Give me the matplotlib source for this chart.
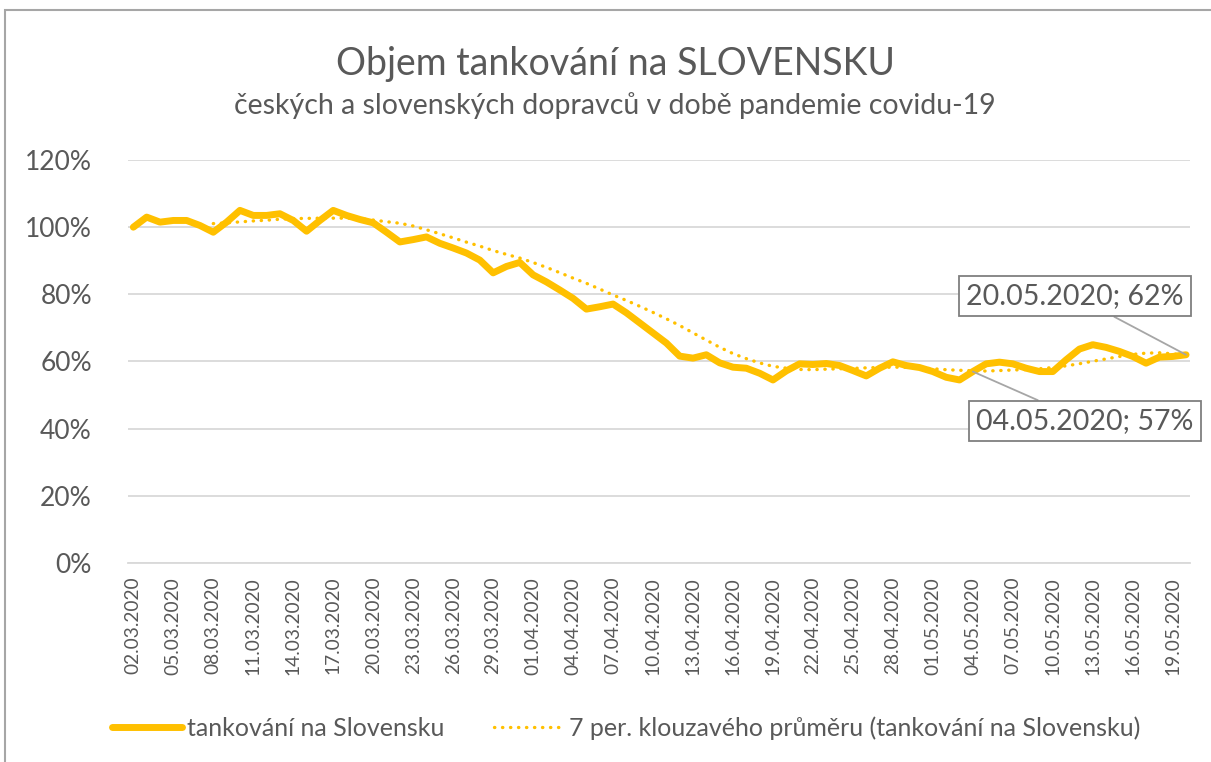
import pandas as pd
import matplotlib.pyplot as plt
from matplotlib.patches import Rectangle
from matplotlib.ticker import FuncFormatter

plt.rcParams['font.family'] = ['Lato', 'DejaVu Sans']

# daily dates 02.03.2020 - 20.05.2020
dates = pd.date_range('2020-03-02', '2020-05-20', freq='D')
date_labels = [d.strftime('%d.%m.%Y') for d in dates]

# tankovani na Slovensku (share of normal volume, %)
tankovani = [100, 103, 101.5, 102, 102, 100.5, 98.5, 101.5, 105, 103.5,
             103.5, 104, 102, 98.8, 102, 105, 103.5, 102.3, 101.3, 98.5,
             95.6, 96.3, 97.1, 95.2, 93.8, 92.3, 90.2, 86.4, 88.3, 89.5,
             85.8, 83.7, 81.3, 78.8, 75.6, 76.3, 77.1, 74.5, 71.5, 68.5,
             65.5, 61.6, 61.0, 62.0, 59.6, 58.3, 58.0, 56.5, 54.5, 57.2,
             59.3, 59.1, 59.4, 58.8, 57.3, 55.7, 58.0, 59.9, 58.8, 58.2,
             57.0, 55.3, 54.5, 57.0, 59.3, 59.8, 59.3, 58.0, 57.0, 57.0,
             60.5, 63.7, 65.0, 64.2, 63.0, 61.5, 59.5, 61.3, 61.5, 62.0]

s = pd.Series(tankovani, dtype=float) / 100
ma7 = s.rolling(7).mean()

gold = '#FFC000'
grey_text = '#595959'

fig = plt.figure(figsize=(12.11, 7.62), dpi=100)
ax = fig.add_axes([0.1057, 0.2612, 0.877, 0.5288])

x = range(len(s))
ax.plot(x, s, color=gold, lw=5, solid_joinstyle='round', solid_capstyle='round',
        label='tankování na Slovensku', zorder=3)
ax.plot(x, ma7, color=gold, lw=2.4, linestyle=(0, (0.1, 2.3)), dash_capstyle='round',
        label='7 per. klouzavého průměru (tankování na Slovensku)', zorder=2)

ax.set_ylim(0, 1.2)
ax.set_xlim(-0.4, 79.3)
ax.set_yticks([0, 0.2, 0.4, 0.6, 0.8, 1.0, 1.2])
ax.yaxis.set_major_formatter(FuncFormatter(lambda v, p: '{:.0f}%'.format(v * 100)))
ax.set_xticks(list(range(0, len(s), 3)))
ax.set_xticklabels(date_labels[::3], rotation=90)
ax.tick_params(axis='both', length=0, colors=grey_text)
ax.tick_params(axis='y', labelsize=19, pad=26)
ax.tick_params(axis='x', labelsize=13.8, pad=10)
ax.grid(axis='y', color='#D9D9D9', lw=1.3)
ax.set_axisbelow(True)
for side in ['left', 'right', 'top']:
    ax.spines[side].set_visible(False)
ax.spines['bottom'].set_color('#D9D9D9')
ax.spines['bottom'].set_linewidth(1.3)

# data labels
box = dict(boxstyle='square,pad=0.25', fc='white', ec='#7F7F7F', lw=1.3)
line = dict(arrowstyle='-', color='#A6A6A6', lw=1.3, shrinkA=0, shrinkB=0)
ax.annotate('20.05.2020; 62%', xy=(79, s.iloc[79]), xytext=(1075, 466),
            textcoords='figure pixels', ha='center', va='center', fontsize=20.5,
            color=grey_text, bbox=box, arrowprops=line, zorder=5)
ax.annotate('04.05.2020; 57%', xy=(63, s.iloc[63]), xytext=(1085, 341),
            textcoords='figure pixels', ha='center', va='center', fontsize=20.5,
            color=grey_text, bbox=box, arrowprops=line, zorder=5)

fig.text(0.508, 0.916, 'Objem tankování na SLOVENSKU', ha='center', va='center',
         fontsize=27, color=grey_text)
fig.text(0.508, 0.862, 'českých a slovenských dopravců v době pandemie covidu-19',
         ha='center', va='center', fontsize=20.5, color=grey_text)

leg = fig.legend(loc='center', bbox_to_anchor=(0.517, 0.045), ncol=2, frameon=False,
                 fontsize=18, handlelength=2.8, columnspacing=2.0, handletextpad=0.2)
for t in leg.get_texts():
    t.set_color(grey_text)

# chart border (cut at right and bottom like the screenshot)
fig.patches.append(Rectangle((5 / 1211, -0.05), 1.2, 1.05 - 10 / 762, transform=fig.transFigure,
                             fill=False, ec='#A6A6A6', lw=1.5))

fig.savefig('out.png', dpi=100)
